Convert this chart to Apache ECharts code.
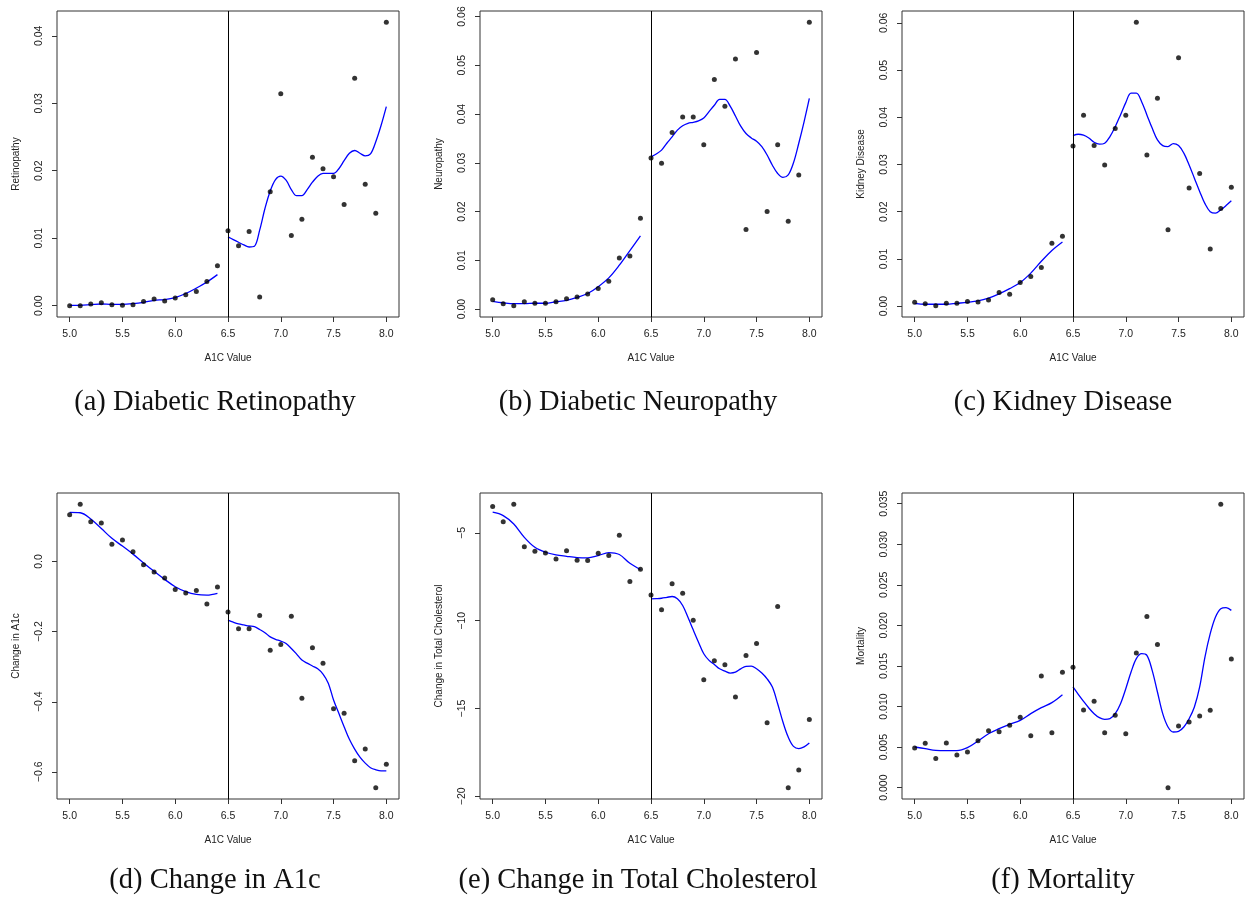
<!DOCTYPE html>
<html>
<head>
<meta charset="utf-8">
<script src="https://cdn.jsdelivr.net/npm/echarts@6/dist/echarts.min.js"></script>
<style>
html,body{margin:0;padding:0;background:#fff;}
#chart{width:1252px;height:900px;}
</style>
</head>
<body>
<div id="chart"></div>
<script>
// ---------- data ----------
const a1c = [5.0,5.1,5.2,5.3,5.4,5.5,5.6,5.7,5.8,5.9,6.0,6.1,6.2,6.3,6.4,6.5,6.6,6.7,6.8,6.9,7.0,7.1,7.2,7.3,7.4,7.5,7.6,7.7,7.8,7.9,8.0];
const fitXLow = [5.0,5.1,5.2,5.3,5.4,5.5,5.6,5.7,5.8,5.9,6.0,6.1,6.2,6.3,6.4];
const fitXHigh = [6.5,6.55,6.6,6.65,6.7,6.75,6.8,6.85,6.9,6.95,7.0,7.05,7.1,7.15,7.2,7.25,7.3,7.35,7.4,7.45,7.5,7.55,7.6,7.65,7.7,7.75,7.8,7.85,7.9,7.95,8.0];
const cutoff = 6.5;

const xTickValues = [5.0,5.5,6.0,6.5,7.0,7.5,8.0];
const xTickLabels = ['5.0','5.5','6.0','6.5','7.0','7.5','8.0'];

const retTicks = [0,0.01,0.02,0.03,0.04];
const retTickLabels = ['0.00','0.01','0.02','0.03','0.04'];
const neuTicks = [0,0.01,0.02,0.03,0.04,0.05,0.06];
const neuTickLabels = ['0.00','0.01','0.02','0.03','0.04','0.05','0.06'];
const kidTicks = [0,0.01,0.02,0.03,0.04,0.05,0.06];
const kidTickLabels = ['0.00','0.01','0.02','0.03','0.04','0.05','0.06'];
const a1cTicks = [-0.6,-0.4,-0.2,0.0];
const a1cTickLabels = ['\u22120.6','\u22120.4','\u22120.2','0.0'];
const cholTicks = [-20,-15,-10,-5];
const cholTickLabels = ['\u221220','\u221215','\u221210','\u22125'];
const morTicks = [0,0.005,0.01,0.015,0.02,0.025,0.03,0.035];
const morTickLabels = ['0.000','0.005','0.010','0.015','0.020','0.025','0.030','0.035'];

const retPts = [0.0000,0.0000,0.00025,0.00045,0.00015,0.00005,0.00015,0.0006,0.0010,0.0007,0.00114,0.0016,0.0021,0.0036,0.0059,0.0111,0.0089,0.0110,0.0013,0.0169,0.0314,0.0104,0.0128,0.0220,0.0203,0.0191,0.0150,0.0337,0.0180,0.0137,0.0420];
const retFitLow = [0.00005,0.00005,0.00015,0.00025,0.0002,0.0002,0.0003,0.0005,0.0008,0.0009,0.0012,0.0018,0.0026,0.0035,0.0046];
const retFitHigh = [0.0102,0.0098,0.0094,0.0090,0.0087,0.0088,0.0112,0.0144,0.0170,0.0187,0.0192,0.0186,0.0172,0.0163,0.0163,0.0172,0.0183,0.0192,0.0196,0.0196,0.0196,0.0203,0.0215,0.0226,0.0230,0.0226,0.0222,0.0225,0.0243,0.0267,0.0295];

const neuPts = [0.0019,0.0011,0.0007,0.0015,0.0012,0.0012,0.0015,0.0021,0.0025,0.0031,0.0042,0.0057,0.0105,0.0109,0.0186,0.0310,0.0299,0.0362,0.0394,0.0394,0.0337,0.0471,0.0416,0.0513,0.0163,0.0526,0.0200,0.0337,0.0180,0.0275,0.0588];
const neuFitLow = [0.0016,0.0013,0.0011,0.0011,0.0012,0.0012,0.0015,0.0018,0.0024,0.0032,0.0046,0.0064,0.0090,0.0120,0.0150];
const neuFitHigh = [0.0312,0.0318,0.0326,0.0340,0.0353,0.0367,0.0376,0.0381,0.0383,0.0386,0.0392,0.0405,0.0418,0.0430,0.0430,0.0416,0.0396,0.0375,0.0360,0.0351,0.0344,0.0333,0.0316,0.0295,0.0278,0.0270,0.0275,0.0300,0.0340,0.0384,0.0432];

const kidPts = [0.0008,0.0005,0.0001,0.0006,0.0006,0.0010,0.0009,0.0013,0.0029,0.0025,0.0050,0.0063,0.0082,0.0133,0.0148,0.0339,0.0404,0.0340,0.0299,0.0376,0.0404,0.0601,0.0320,0.0440,0.0162,0.0526,0.0250,0.0281,0.0121,0.0207,0.0252];
const kidFitLow = [0.0006,0.0004,0.0004,0.0004,0.0006,0.0008,0.0011,0.0017,0.0026,0.0037,0.0050,0.0070,0.0095,0.0118,0.0136];
const kidFitHigh = [0.0361,0.0364,0.0362,0.0356,0.0347,0.0343,0.0345,0.0359,0.0380,0.0405,0.0431,0.0451,0.0451,0.0433,0.0405,0.0377,0.0352,0.0340,0.0338,0.0344,0.0340,0.0324,0.0299,0.0271,0.0243,0.0217,0.0200,0.0197,0.0204,0.0213,0.0223];

const a1cPts = [0.133,0.163,0.113,0.110,0.049,0.061,0.028,-0.009,-0.030,-0.047,-0.080,-0.090,-0.083,-0.121,-0.073,-0.144,-0.192,-0.192,-0.154,-0.253,-0.237,-0.156,-0.390,-0.246,-0.290,-0.420,-0.433,-0.568,-0.535,-0.645,-0.578];
const a1cFitLow = [0.140,0.139,0.121,0.094,0.066,0.044,0.021,-0.004,-0.028,-0.051,-0.072,-0.086,-0.094,-0.096,-0.091];
const a1cFitHigh = [-0.167,-0.173,-0.178,-0.181,-0.184,-0.186,-0.194,-0.203,-0.215,-0.222,-0.227,-0.234,-0.248,-0.264,-0.281,-0.290,-0.298,-0.306,-0.321,-0.347,-0.395,-0.433,-0.471,-0.507,-0.535,-0.558,-0.575,-0.588,-0.594,-0.597,-0.597];

const cholPts = [-3.50,-4.36,-3.37,-5.78,-6.04,-6.14,-6.48,-6.02,-6.56,-6.57,-6.16,-6.29,-5.13,-7.77,-7.07,-8.53,-9.38,-7.90,-8.43,-9.97,-13.36,-12.28,-12.51,-14.35,-11.98,-11.30,-15.81,-9.19,-19.51,-18.50,-15.62];
const cholFitLow = [-3.82,-4.01,-4.49,-5.25,-5.82,-6.10,-6.25,-6.33,-6.40,-6.42,-6.29,-6.12,-6.23,-6.73,-7.09];
const cholFitHigh = [-8.75,-8.74,-8.72,-8.67,-8.62,-8.75,-9.13,-9.80,-10.52,-11.22,-11.88,-12.26,-12.49,-12.74,-12.87,-12.98,-12.93,-12.74,-12.60,-12.59,-12.74,-12.98,-13.31,-13.78,-14.73,-15.77,-16.63,-17.16,-17.29,-17.19,-16.97];

const morPts = [0.00489,0.00546,0.00361,0.00550,0.00403,0.00440,0.00579,0.00702,0.00690,0.00768,0.00867,0.00641,0.01376,0.00678,0.01421,0.01483,0.00957,0.01064,0.00678,0.00891,0.00665,0.01660,0.02111,0.01766,0.0000,0.00760,0.00809,0.00883,0.00953,0.03492,0.01586];
const morFitLow = [0.00501,0.00481,0.0046,0.00456,0.00456,0.00493,0.00575,0.00665,0.00727,0.0078,0.0083,0.00912,0.00986,0.01048,0.01146];
const morFitHigh = [0.01241,0.0115,0.01064,0.00982,0.00912,0.00863,0.00842,0.0085,0.00912,0.01035,0.0122,0.01425,0.0159,0.01651,0.01631,0.01446,0.01179,0.00912,0.00748,0.00686,0.00694,0.00748,0.0085,0.00994,0.01241,0.0161,0.01898,0.02103,0.02206,0.02218,0.02185];

const xAxisName = 'A1C Value';
const yNames = ['Retinopathy','Neuropathy','Kidney Disease','Change in A1c','Change in Total Cholesterol','Mortality'];
const captions = ['(a) Diabetic Retinopathy','(b) Diabetic Neuropathy','(c) Kidney Disease','(d) Change in A1c','(e) Change in Total Cholesterol','(f) Mortality'];

// ---------- panels ----------
const panels = [
  {pts: retPts, low: retFitLow, high: retFitHigh, ticks: retTicks, labels: retTickLabels},
  {pts: neuPts, low: neuFitLow, high: neuFitHigh, ticks: neuTicks, labels: neuTickLabels},
  {pts: kidPts, low: kidFitLow, high: kidFitHigh, ticks: kidTicks, labels: kidTickLabels},
  {pts: a1cPts, low: a1cFitLow, high: a1cFitHigh, ticks: a1cTicks, labels: a1cTickLabels},
  {pts: cholPts, low: cholFitLow, high: cholFitHigh, ticks: cholTicks, labels: cholTickLabels},
  {pts: morPts, low: morFitLow, high: morFitHigh, ticks: morTicks, labels: morTickLabels}
];

const colLeft = [57, 480, 902];
const colWidth = 342;
const rowTop = [11, 493];
const rowHeight = 306;
const capX = [215, 638, 1063];
const capY = [403, 881];

const sansFont = 'Liberation Sans, Arial, Helvetica, sans-serif';
const labelColor = '#222';
const boxColor = '#333';

function lookup(ticks, labels, v) {
  for (let i = 0; i < ticks.length; i++) {
    if (Math.abs(ticks[i] - v) < 1e-9) return labels[i];
  }
  return '';
}

const grids = [], xAxes = [], yAxes = [], series = [], graphics = [];
const xPad = (a1c[a1c.length - 1] - a1c[0]) * 0.04;

panels.forEach((p, i) => {
  const col = i % 3, row = Math.floor(i / 3);
  grids.push({
    left: colLeft[col], top: rowTop[row], width: colWidth, height: rowHeight,
    show: true, borderColor: boxColor, borderWidth: 1, backgroundColor: 'transparent',
    containLabel: false
  });
  xAxes.push({
    type: 'value', gridIndex: i, position: 'bottom',
    min: a1c[0] - xPad, max: a1c[a1c.length - 1] + xPad,
    name: xAxisName, nameLocation: 'middle', nameGap: 36,
    nameTextStyle: {fontFamily: sansFont, fontSize: 10, color: labelColor},
    axisLine: {show: false, onZero: false},
    splitLine: {show: false},
    axisTick: {show: true, inside: false, length: 5, customValues: xTickValues,
               lineStyle: {color: boxColor, width: 1}},
    axisLabel: {show: true, margin: 12, customValues: xTickValues,
                fontFamily: sansFont, fontSize: 10.5, color: labelColor,
                formatter: v => lookup(xTickValues, xTickLabels, v)}
  });
  const lo = Math.min(...p.pts), hi = Math.max(...p.pts);
  const yPad = (hi - lo) * 0.04;
  yAxes.push({
    type: 'value', gridIndex: i, position: 'left',
    min: lo - yPad, max: hi + yPad,
    name: yNames[i], nameLocation: 'middle', nameGap: 36,
    nameTextStyle: {fontFamily: sansFont, fontSize: 10, color: labelColor},
    axisLine: {show: false, onZero: false},
    splitLine: {show: false},
    axisTick: {show: true, inside: false, length: 5, customValues: p.ticks,
               lineStyle: {color: boxColor, width: 1}},
    axisLabel: {show: true, margin: 12, rotate: 90, customValues: p.ticks,
                fontFamily: sansFont, fontSize: 10.5, color: labelColor,
                formatter: v => lookup(p.ticks, p.labels, v)}
  });
  series.push({
    type: 'scatter', xAxisIndex: i, yAxisIndex: i,
    data: a1c.map((x, k) => [x, p.pts[k]]),
    symbol: 'circle', symbolSize: 5,
    itemStyle: {color: '#000'},
    silent: true, z: 5,
    markLine: {
      silent: true, symbol: ['none', 'none'], label: {show: false},
      lineStyle: {color: '#000', type: 'solid', width: 1},
      emphasis: {disabled: true},
      data: [{xAxis: cutoff}]
    }
  });
  series.push({
    type: 'line', xAxisIndex: i, yAxisIndex: i,
    data: fitXLow.map((x, k) => [x, p.low[k]]),
    showSymbol: false, smooth: 0.35, silent: true,
    lineStyle: {color: '#0000ff', width: 1.3}, z: 4
  });
  series.push({
    type: 'line', xAxisIndex: i, yAxisIndex: i,
    data: fitXHigh.map((x, k) => [x, p.high[k]]),
    showSymbol: false, smooth: 0.35, silent: true,
    lineStyle: {color: '#0000ff', width: 1.3}, z: 4
  });
  graphics.push({
    type: 'text', x: capX[col], y: capY[row], silent: true,
    style: {text: captions[i], textAlign: 'center', textVerticalAlign: 'middle',
            font: '28.5px "Liberation Serif", "Times New Roman", serif', fill: '#111'}
  });
});

const chart = echarts.init(document.getElementById('chart'), null, {renderer: 'canvas'});
chart.setOption({
  animation: false,
  backgroundColor: '#fff',
  grid: grids,
  xAxis: xAxes,
  yAxis: yAxes,
  series: series,
  graphic: graphics
});
</script>
</body>
</html>
